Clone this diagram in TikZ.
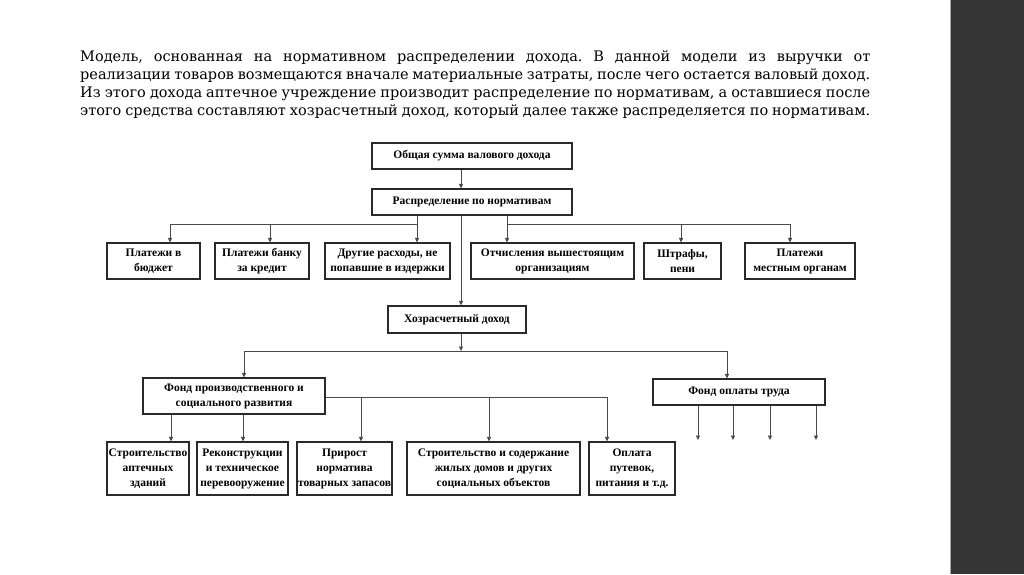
\documentclass[tikz,border=0pt]{standalone}
\usepackage{fontspec}
\setmainfont{Liberation Serif}
\newfontfamily\parafont{DejaVu Serif}
\usetikzlibrary{arrows.meta}
\definecolor{barcol}{HTML}{353535}
\definecolor{linecol}{HTML}{2A2A2A}
\frenchspacing
\begin{document}
\begin{tikzpicture}[x=1pt,y=-1pt,
  box/.style={draw=linecol, line width=1.1pt, align=center, inner sep=1pt,
    font=\bfseries\fontsize{11.5}{15}\selectfont, text=black},
  conn/.style={draw=linecol!85, line width=0.8pt},
  arr/.style={conn, -{Triangle[length=4.5pt,width=4pt]}},
  paraline/.style={anchor=base west, inner sep=0pt, font=\parafont\fontsize{14.5}{18}\selectfont}
]
\useasboundingbox (0,0) rectangle (1024,574);
\fill[white] (0,0) rectangle (950,574);
\fill[barcol] (950,0) rectangle (1024,574);
\draw[gray!70, line width=1pt] (950.5,0) -- (950.5,574);

% paragraph
\node[paraline] (p1) at (80,61) {\makebox[790pt][s]{Модель, основанная на нормативном распределении дохода. В данной модели из выручки от}};
\node[paraline] (p2) at (80,79) {\makebox[790pt][s]{реализации товаров возмещаются вначале материальные затраты, после чего остается валовый доход.}};
\node[paraline] (p3) at (80,97) {\makebox[790pt][s]{Из этого дохода аптечное учреждение производит распределение по нормативам, а оставшиеся после}};
\node[paraline] (p4) at (80,115) {\makebox[790pt][s]{этого средства составляют хозрасчетный доход, который далее также распределяется по нормативам.}};

% boxes
\node[box, minimum width=200pt, minimum height=26pt] (total) at (472,156) {Общая сумма валового дохода};
\node[box, minimum width=200pt, minimum height=26pt] (distr) at (472,202) {Распределение по нормативам};

\node[box, minimum width=93pt, minimum height=36pt] (b1) at (153.5,261) {Платежи в\\бюджет};
\node[box, minimum width=94pt, minimum height=36pt] (b2) at (262,261) {Платежи банку\\за кредит};
\node[box, minimum width=125pt, minimum height=36pt] (b3) at (387.5,261) {Другие расходы, не\\попавшие в издержки};
\node[box, minimum width=163pt, minimum height=36pt] (b4) at (552.5,261) {Отчисления вышестоящим\\организациям};
\node[box, minimum width=77pt, minimum height=36pt] (b5) at (682.5,261) {Штрафы,\\пени};
\node[box, minimum width=110pt, minimum height=36pt] (b6) at (800,261) {Платежи\\местным органам};

\node[box, minimum width=138pt, minimum height=27pt] (hoz) at (457,319.5) {Хозрасчетный доход};

\node[box, minimum width=182pt, minimum height=36pt] (fpr) at (234,396) {Фонд производственного и\\социального развития};
\node[box, minimum width=172pt, minimum height=26pt] (fot) at (739,392) {Фонд оплаты труда};

\node[box, minimum width=82pt, minimum height=53pt] (c1) at (148,468.5) {Строительство\\аптечных\\зданий};
\node[box, minimum width=91pt, minimum height=53pt] (c2) at (242.5,468.5) {Реконструкции\\и техническое\\перевооружение};
\node[box, minimum width=95pt, minimum height=53pt] (c3) at (344.5,468.5) {Прирост\\норматива\\товарных запасов};
\node[box, minimum width=173pt, minimum height=53pt] (c4) at (493.5,468.5) {Строительство и содержание\\жилых домов и других\\социальных объектов};
\node[box, minimum width=86pt, minimum height=53pt] (c5) at (632,468.5) {Оплата\\путевок,\\питания и т.д.};

% connectors
\coordinate (mainx) at (461,0);
\draw[arr] (total.south -| mainx) -- (distr.north -| mainx);
\draw[arr] (distr.south -| mainx) -- (hoz.north -| mainx);

\coordinate (lb1) at (170,224);
\coordinate (lb2) at (270,224);
\coordinate (lb3) at (417,224);
\coordinate (rb1) at (507,224);
\coordinate (rb2) at (681,224);
\coordinate (rb3) at (790,224);
\draw[conn] (lb1) -- (lb3);
\draw[conn] (rb1) -- (rb3);
\draw[arr] (distr.south -| lb3) -- (b3.north -| lb3);
\draw[arr] (lb1) -- (b1.north -| lb1);
\draw[arr] (lb2) -- (b2.north -| lb2);
\draw[arr] (distr.south -| rb1) -- (b4.north -| rb1);
\draw[arr] (rb2) -- (b5.north -| rb2);
\draw[arr] (rb3) -- (b6.north -| rb3);

\coordinate (hb) at (461,351);
\coordinate (hbL) at (244,351);
\coordinate (hbR) at (727,351);
\draw[conn] (hbL) -- (hbR);
\draw[arr] (hoz.south -| hb) -- (hb);
\draw[arr] (hbL) -- (fpr.north -| hbL);
\draw[arr] (hbR) -- (fot.north -| hbR);

\coordinate (fd1) at (171,0);
\coordinate (fd2) at (243,0);
\draw[arr] (fpr.south -| fd1) -- (c1.north -| fd1);
\draw[arr] (fpr.south -| fd2) -- (c2.north -| fd2);
\coordinate (fb1) at (361,397);
\coordinate (fb2) at (489,397);
\coordinate (fb3) at (607,397);
\draw[conn] (fpr.east |- fb1) -- (fb3);
\draw[arr] (fb1) -- (c3.north -| fb1);
\draw[arr] (fb2) -- (c4.north -| fb2);
\draw[arr] (fb3) -- (c5.north -| fb3);

\coordinate (e1) at (698,440);
\coordinate (e2) at (733,440);
\coordinate (e3) at (770,440);
\coordinate (e4) at (816,440);
\draw[arr] (fot.south -| e1) -- (e1);
\draw[arr] (fot.south -| e2) -- (e2);
\draw[arr] (fot.south -| e3) -- (e3);
\draw[arr] (fot.south -| e4) -- (e4);
\end{tikzpicture}
\end{document}
